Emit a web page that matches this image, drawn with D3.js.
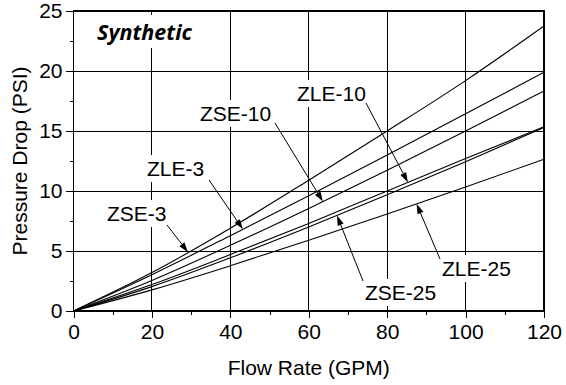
<!DOCTYPE html>
<html>
<head>
<meta charset="utf-8">
<script src="https://cdn.jsdelivr.net/npm/d3@7"></script>
<style>
  html, body { margin: 0; padding: 0; background: #fff; }
  svg { display: block; }
</style>
</head>
<body>
<svg id="chart" width="566" height="385"></svg>
<script>
// ---- Data ----
const flowRate = [0, 20, 40, 60, 80, 100, 120];
const zse3  = [0, 3.20, 6.90, 10.90, 15.00, 19.20, 23.75];
const zle3  = [0, 3.03, 6.28, 9.61, 13.00, 16.43, 19.90];
const zse10 = [0, 2.55, 5.47, 8.55, 11.73, 15.00, 18.33];
const zle10 = [0, 2.20, 4.70, 7.30, 10.00, 12.70, 15.35];
const zse25 = [0, 2.03, 4.43, 7.00, 9.68, 12.43, 15.30];
const zle25 = [0, 1.76, 3.77, 5.90, 8.09, 10.34, 12.64];

const seriesNames = ["ZSE-3", "ZLE-3", "ZSE-10", "ZLE-10", "ZSE-25", "ZLE-25"];
const seriesValues = [zse3, zle3, zse10, zle10, zse25, zle25];

const xTicks = [0, 20, 40, 60, 80, 100, 120];
const xMinorTicks = [10, 30, 50, 70, 90, 110];
const yTicks = [0, 5, 10, 15, 20, 25];
const yMinorTicks = [2.5, 7.5, 12.5, 17.5, 22.5];

const xTitle = "Flow Rate (GPM)";
const yTitle = "Pressure Drop (PSI)";
const chartTag = "Synthetic";

// flow value where each annotation arrow touches its curve
const annoTipFlow = [29.2, 43.2, 63.6, 85.3, 67.2, 87.5];

// ---- Layout ----
const L = 73.5, R = 544, T = 11, B = 311;
const FONT = "'Liberation Sans', Arial, Helvetica, sans-serif";
const FS = 21;
// label text (left, baseline) and arrow start, per annotation
const annoLayout = [
  {tx: 107, ty: 221, sx: 167, sy: 225},
  {tx: 147, ty: 176, sx: 209, sy: 180},
  {tx: 200, ty: 121, sx: 275, sy: 123},
  {tx: 297, ty: 101, sx: 366, sy: 103},
  {tx: 365, ty: 300, sx: 363, sy: 281},
  {tx: 442, ty: 276, sx: 440, sy: 259}
];

const svg = d3.select("#chart");
const x = d3.scaleLinear().domain([0, 120]).range([L, R]);
const y = d3.scaleLinear().domain([0, 25]).range([B, T]);

// grid
const grid = svg.append("g").attr("stroke", "#000").attr("stroke-width", 1).attr("shape-rendering", "crispEdges");
grid.selectAll("line.v").data(xTicks.slice(1, -1)).join("line")
  .attr("x1", d => x(d)).attr("x2", d => x(d)).attr("y1", T).attr("y2", B);
grid.selectAll("line.h").data(yTicks.slice(1, -1)).join("line")
  .attr("x1", L).attr("x2", R).attr("y1", d => y(d)).attr("y2", d => y(d));
// frame
svg.append("rect").attr("x", L).attr("y", T).attr("width", R - L).attr("height", B - T)
  .attr("fill", "none").attr("stroke", "#000").attr("stroke-width", 1.3).attr("shape-rendering", "crispEdges");

// curves
const line = d3.line().x((d, i) => x(flowRate[i])).y(d => y(d)).curve(d3.curveMonotoneX);
svg.append("g").selectAll("path").data(seriesValues).join("path")
  .attr("d", d => line(d)).attr("fill", "none").attr("stroke", "#000").attr("stroke-width", 1.1);

// axes
const xAxis = d3.axisBottom(x).tickValues(xTicks).tickSize(7).tickPadding(6).tickFormat(d3.format("d"));
const gx = svg.append("g").attr("transform", `translate(0,${B})`).call(xAxis);
const xMinor = d3.axisBottom(x).tickValues(xMinorTicks).tickSize(4).tickFormat("");
const gxm = svg.append("g").attr("transform", `translate(0,${B})`).call(xMinor);
const yAxis = d3.axisLeft(y).tickValues(yTicks).tickSize(8).tickPadding(3).tickFormat(d3.format("d"));
const gy = svg.append("g").attr("transform", `translate(${L},0)`).call(yAxis);
const yMinor = d3.axisLeft(y).tickValues(yMinorTicks).tickSize(4).tickFormat("");
const gym = svg.append("g").attr("transform", `translate(${L},0)`).call(yMinor);
[gx, gxm, gy, gym].forEach(g => {
  g.select(".domain").remove();
  g.selectAll("line").attr("stroke", "#000").attr("shape-rendering", "crispEdges");
  g.selectAll("text").attr("font-family", FONT).attr("font-size", FS).attr("fill", "#000");
});

// titles
svg.append("text").attr("x", (L + R) / 2).attr("y", 375).attr("text-anchor", "middle")
  .attr("font-family", FONT).attr("font-size", FS).text(xTitle);
svg.append("text").attr("transform", `translate(27,${(T + B) / 2}) rotate(-90)`).attr("text-anchor", "middle")
  .attr("font-family", FONT).attr("font-size", FS).text(yTitle);

// tag
const tag = svg.append("g");
const tagText = tag.append("text").attr("x", 97).attr("y", 40)
  .attr("font-family", "'Open Sans', 'DejaVu Sans', sans-serif").attr("font-size", 21.5)
  .attr("font-weight", "bold").attr("font-style", "italic").text(chartTag);
const tb = tagText.node().getBBox();
tag.insert("rect", "text").attr("x", tb.x - 3).attr("y", tb.y - 2).attr("width", tb.width + 6).attr("height", tb.height + 4).attr("fill", "#fff");

// value on a series at a flow (linear between read points)
function valueAt(vals, f) {
  const interp = d3.scaleLinear().domain(flowRate).range(vals);
  return interp(f);
}

// annotations
const ann = svg.append("g");
seriesNames.forEach((name, i) => {
  const lay = annoLayout[i];
  const g = ann.append("g");
  const t = g.append("text").attr("x", lay.tx).attr("y", lay.ty)
    .attr("font-family", FONT).attr("font-size", FS).text(name);
  const bb = t.node().getBBox();
  g.insert("rect", "text").attr("x", bb.x - 3).attr("y", bb.y - 2)
    .attr("width", bb.width + 6).attr("height", bb.height + 4).attr("fill", "#fff");
  const f = annoTipFlow[i];
  const txp = x(f), typ = y(valueAt(seriesValues[i], f));
  const dx = txp - lay.sx, dy = typ - lay.sy;
  const len = Math.hypot(dx, dy), ux = dx / len, uy = dy / len;
  const hl = 10, hw = 3.2;
  const bx = txp - ux * hl, by = typ - uy * hl;
  ann.append("line").attr("x1", lay.sx).attr("y1", lay.sy).attr("x2", bx).attr("y2", by)
    .attr("stroke", "#000").attr("stroke-width", 1);
  ann.append("path")
    .attr("d", `M${txp},${typ}L${bx - uy * hw},${by + ux * hw}L${bx + uy * hw},${by - ux * hw}Z`)
    .attr("fill", "#000");
});
</script>
</body>
</html>
